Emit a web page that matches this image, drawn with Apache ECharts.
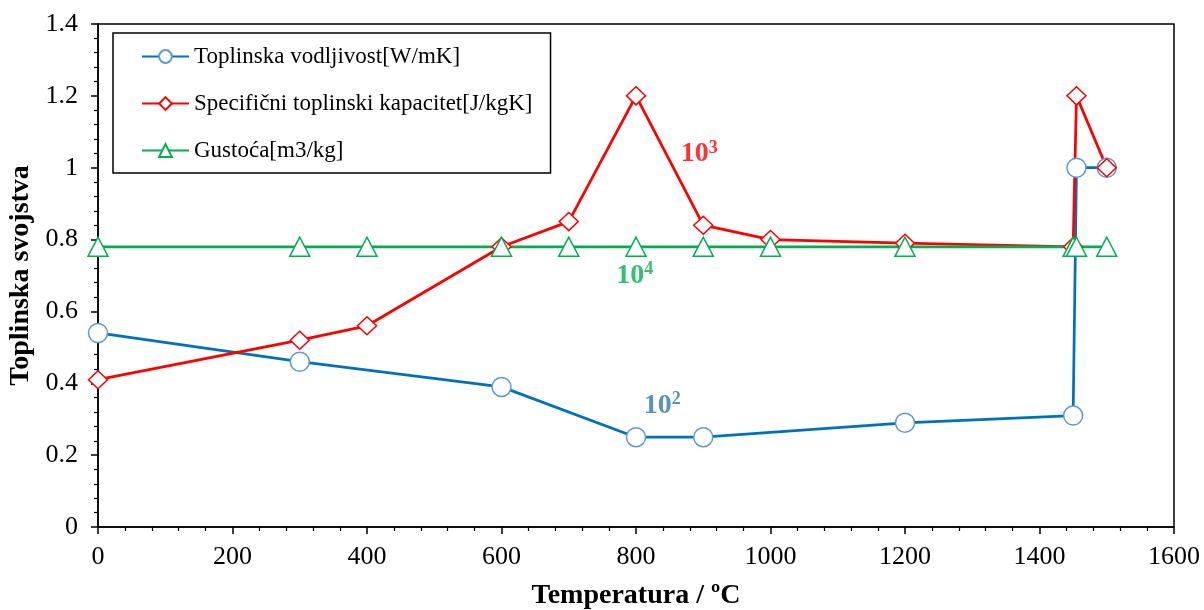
<!DOCTYPE html>
<html><head><meta charset="utf-8">
<script src="https://cdn.jsdelivr.net/npm/echarts@6/dist/echarts.min.js"></script>
<style>html,body{margin:0;padding:0;background:#fff}#c{width:1204px;height:610px}</style>
</head><body><div id="c"></div>
<script>
const blueX = [0, 300, 600, 800, 900, 1200, 1450, 1455, 1500];
const blueY = [0.54, 0.46, 0.39, 0.25, 0.25, 0.29, 0.31, 1.0, 1.0];
const redX = [0, 300, 400, 600, 700, 800, 900, 1000, 1200, 1450, 1455, 1500];
const redY = [0.41, 0.52, 0.56, 0.78, 0.85, 1.2, 0.84, 0.80, 0.79, 0.78, 1.2, 1.0];
const greenX = [0, 300, 400, 600, 700, 800, 900, 1000, 1200, 1450, 1455, 1500];
const greenY = [0.78, 0.78, 0.78, 0.78, 0.78, 0.78, 0.78, 0.78, 0.78, 0.78, 0.78, 0.78];
const seriesNames = ['Toplinska vodljivost[W/mK]', 'Specifični toplinski kapacitet[J/kgK]', 'Gustoća[m3/kg]'];
const annoX = [894, 798, 839];
const annoY = [1.038, 0.700, 0.338];
const annoExp = ['3', '4', '2'];
const annoColor = ['#FF0000', '#00B050', '#2E75B6'];

const FONT = "'Liberation Serif','Times New Roman',serif";
const zip = (xs, ys) => xs.map((x, i) => [x, ys[i]]);

const chart = echarts.init(document.getElementById('c'), null, {renderer: 'canvas'});
const annoSeries = annoX.map((x, i) => ({
  type: 'scatter', data: [[x, annoY[i]]], symbolSize: 0, silent: true, z: 10,
  label: {
    show: true, position: 'inside',
    formatter: '{b|10}{s|' + annoExp[i] + '}',
    rich: {
      b: {fontFamily: FONT, fontSize: 28, fontWeight: 'bold', color: annoColor[i], lineHeight: 30},
      s: {fontFamily: FONT, fontSize: 18, fontWeight: 'bold', color: annoColor[i], lineHeight: 18, verticalAlign: 'top'}
    }
  }
}));

chart.setOption({
  animation: false,
  backgroundColor: '#fff',
  grid: {left: 98, right: 30, top: 24, bottom: 83, containLabel: false, outerBoundsMode: 'none',
         show: true, borderColor: '#000', borderWidth: 1.5},
  legend: {
    orient: 'vertical', left: 113, top: 33,
    data: seriesNames,
    itemWidth: 47, itemHeight: 16, itemGap: 24,
    padding: [12, 18, 11, 28],
    backgroundColor: '#fff', borderColor: '#000', borderWidth: 1.5,
    textStyle: {fontFamily: FONT, fontSize: 23, color: '#000'}
  },
  xAxis: {
    type: 'value', min: 0, max: 1600, interval: 200,
    name: 'Temperatura / ºC', nameLocation: 'middle', nameGap: 55,
    nameTextStyle: {fontFamily: FONT, fontSize: 28, fontWeight: 'bold', color: '#000'},
    axisLine: {show: true, onZero: false, lineStyle: {color: '#000', width: 1.5}},
    axisTick: {show: true, inside: false, length: 7, lineStyle: {color: '#000', width: 1.5}},
    minorTick: {show: true, splitNumber: 5, length: 4, lineStyle: {color: '#000', width: 1.2}},
    axisLabel: {fontFamily: FONT, fontSize: 26, color: '#000', margin: 17, formatter: v => String(v)},
    splitLine: {show: false}
  },
  yAxis: {
    type: 'value', min: 0, max: 1.4, interval: 0.2,
    name: 'Toplinska svojstva', nameLocation: 'middle', nameGap: 60, nameRotate: 90,
    nameTextStyle: {fontFamily: FONT, fontSize: 28, fontWeight: 'bold', color: '#000'},
    axisLine: {show: true, lineStyle: {color: '#000', width: 1.5}},
    axisTick: {show: true, inside: false, length: 7, lineStyle: {color: '#000', width: 1.5}},
    minorTick: {show: true, splitNumber: 5, length: 4, lineStyle: {color: '#000', width: 1.2}},
    axisLabel: {fontFamily: FONT, fontSize: 26, color: '#000', margin: 20},
    splitLine: {show: false}
  },
  series: [
    {
      name: seriesNames[0], type: 'line', data: zip(blueX, blueY),
      symbol: 'circle', symbolSize: 19, showAllSymbol: true,
      lineStyle: {color: '#0070C0', width: 2.75},
      itemStyle: {color: '#fff', borderColor: '#5B9BD5', borderWidth: 1.5}
    },
    {
      name: seriesNames[1], type: 'line', data: zip(redX, redY),
      symbol: 'diamond', symbolSize: [19, 18], showAllSymbol: true,
      lineStyle: {color: '#FF0000', width: 2.75},
      itemStyle: {color: '#fff', borderColor: '#FF0000', borderWidth: 1.5}
    },
    {
      name: seriesNames[2], type: 'line', data: zip(greenX, greenY),
      symbol: 'triangle', symbolSize: [20, 19], showAllSymbol: true,
      lineStyle: {color: '#00B050', width: 2.75},
      itemStyle: {color: '#fff', borderColor: '#00B050', borderWidth: 1.5}
    },
    ...annoSeries
  ]
});
</script></body></html>
